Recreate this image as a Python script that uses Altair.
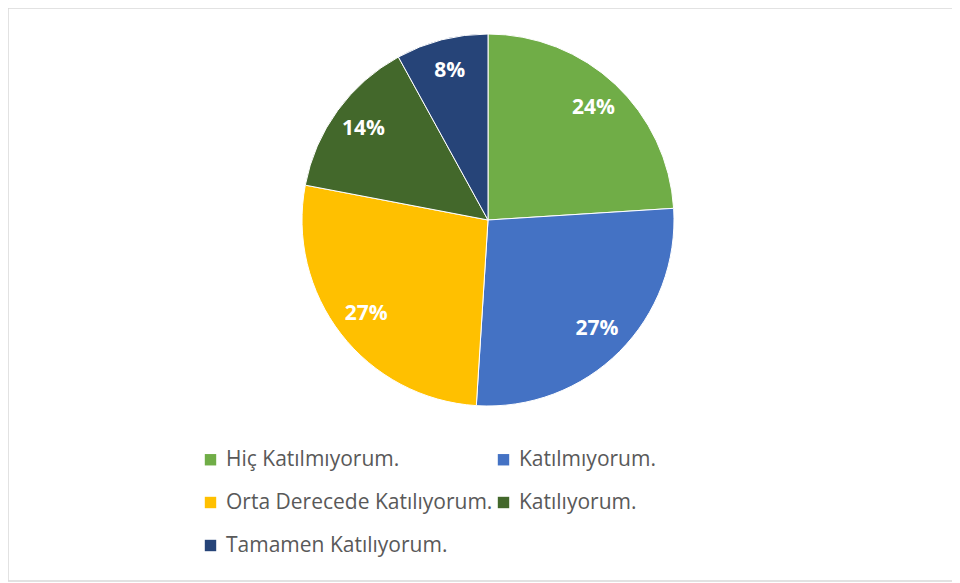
import altair as alt
import pandas as pd

categories = ["Hiç Katılmıyorum.", "Katılmıyorum.", "Orta Derecede Katılıyorum.",
              "Katılıyorum.", "Tamamen Katılıyorum."]
values = [24, 27, 27, 14, 8]
labels = ["24%", "27%", "27%", "14%", "8%"]
colors = ["#70AD47", "#4472C4", "#FFC000", "#43682B", "#264478"]

df = pd.DataFrame({
    "kategori": categories,
    "deger": values,
    "etiket": labels,
    "sira": list(range(len(categories))),
})

W, H = 944, 574
CX, CY = 480, 212

base = alt.Chart(df).encode(
    theta=alt.Theta("deger:Q", stack=True),
    order=alt.Order("sira:Q", sort="ascending"),
)

pie = base.mark_arc(outerRadius=186, stroke="white", strokeWidth=1).encode(
    x=alt.value(CX), y=alt.value(CY),
    color=alt.Color(
        "kategori:N",
        scale=alt.Scale(domain=categories, range=colors),
        sort=categories,
        legend=alt.Legend(
            title=None, orient="none", legendX=192, legendY=441,
            direction="horizontal", columns=2, symbolType="square",
            symbolSize=130, symbolStrokeWidth=0, labelFont="Open Sans",
            labelFontSize=21, labelColor="#595959", rowPadding=21,
            columnPadding=0, labelOffset=5, labelLimit=400,
        ),
    ),
)

text = base.mark_text(radius=154, font="Open Sans", fontSize=21,
                      fontWeight="bold", color="white").encode(
    x=alt.value(CX), y=alt.value(CY),
    text="etiket:N",
)

frame_df = pd.DataFrame({"k": [0]})
left = alt.Chart(frame_df).mark_rule(color="#D9D9D9", strokeWidth=1.5).encode(
    x=alt.value(0), y=alt.value(0), y2=alt.value(H - 1))
top = alt.Chart(frame_df).mark_rule(color="#D9D9D9", strokeWidth=1.5).encode(
    x=alt.value(0), x2=alt.value(W), y=alt.value(0))
bottom = alt.Chart(frame_df).mark_rule(color="#D9D9D9", strokeWidth=1.5).encode(
    x=alt.value(0), x2=alt.value(W), y=alt.value(H - 1))

chart = alt.layer(pie, text, left, top, bottom).properties(
    width=W, height=H, padding=0, autosize=alt.AutoSizeParams(type="none"),
    background="white",
).configure_view(stroke=None)

chart.save("out.html", embed_options={"renderer": "svg", "actions": False})
